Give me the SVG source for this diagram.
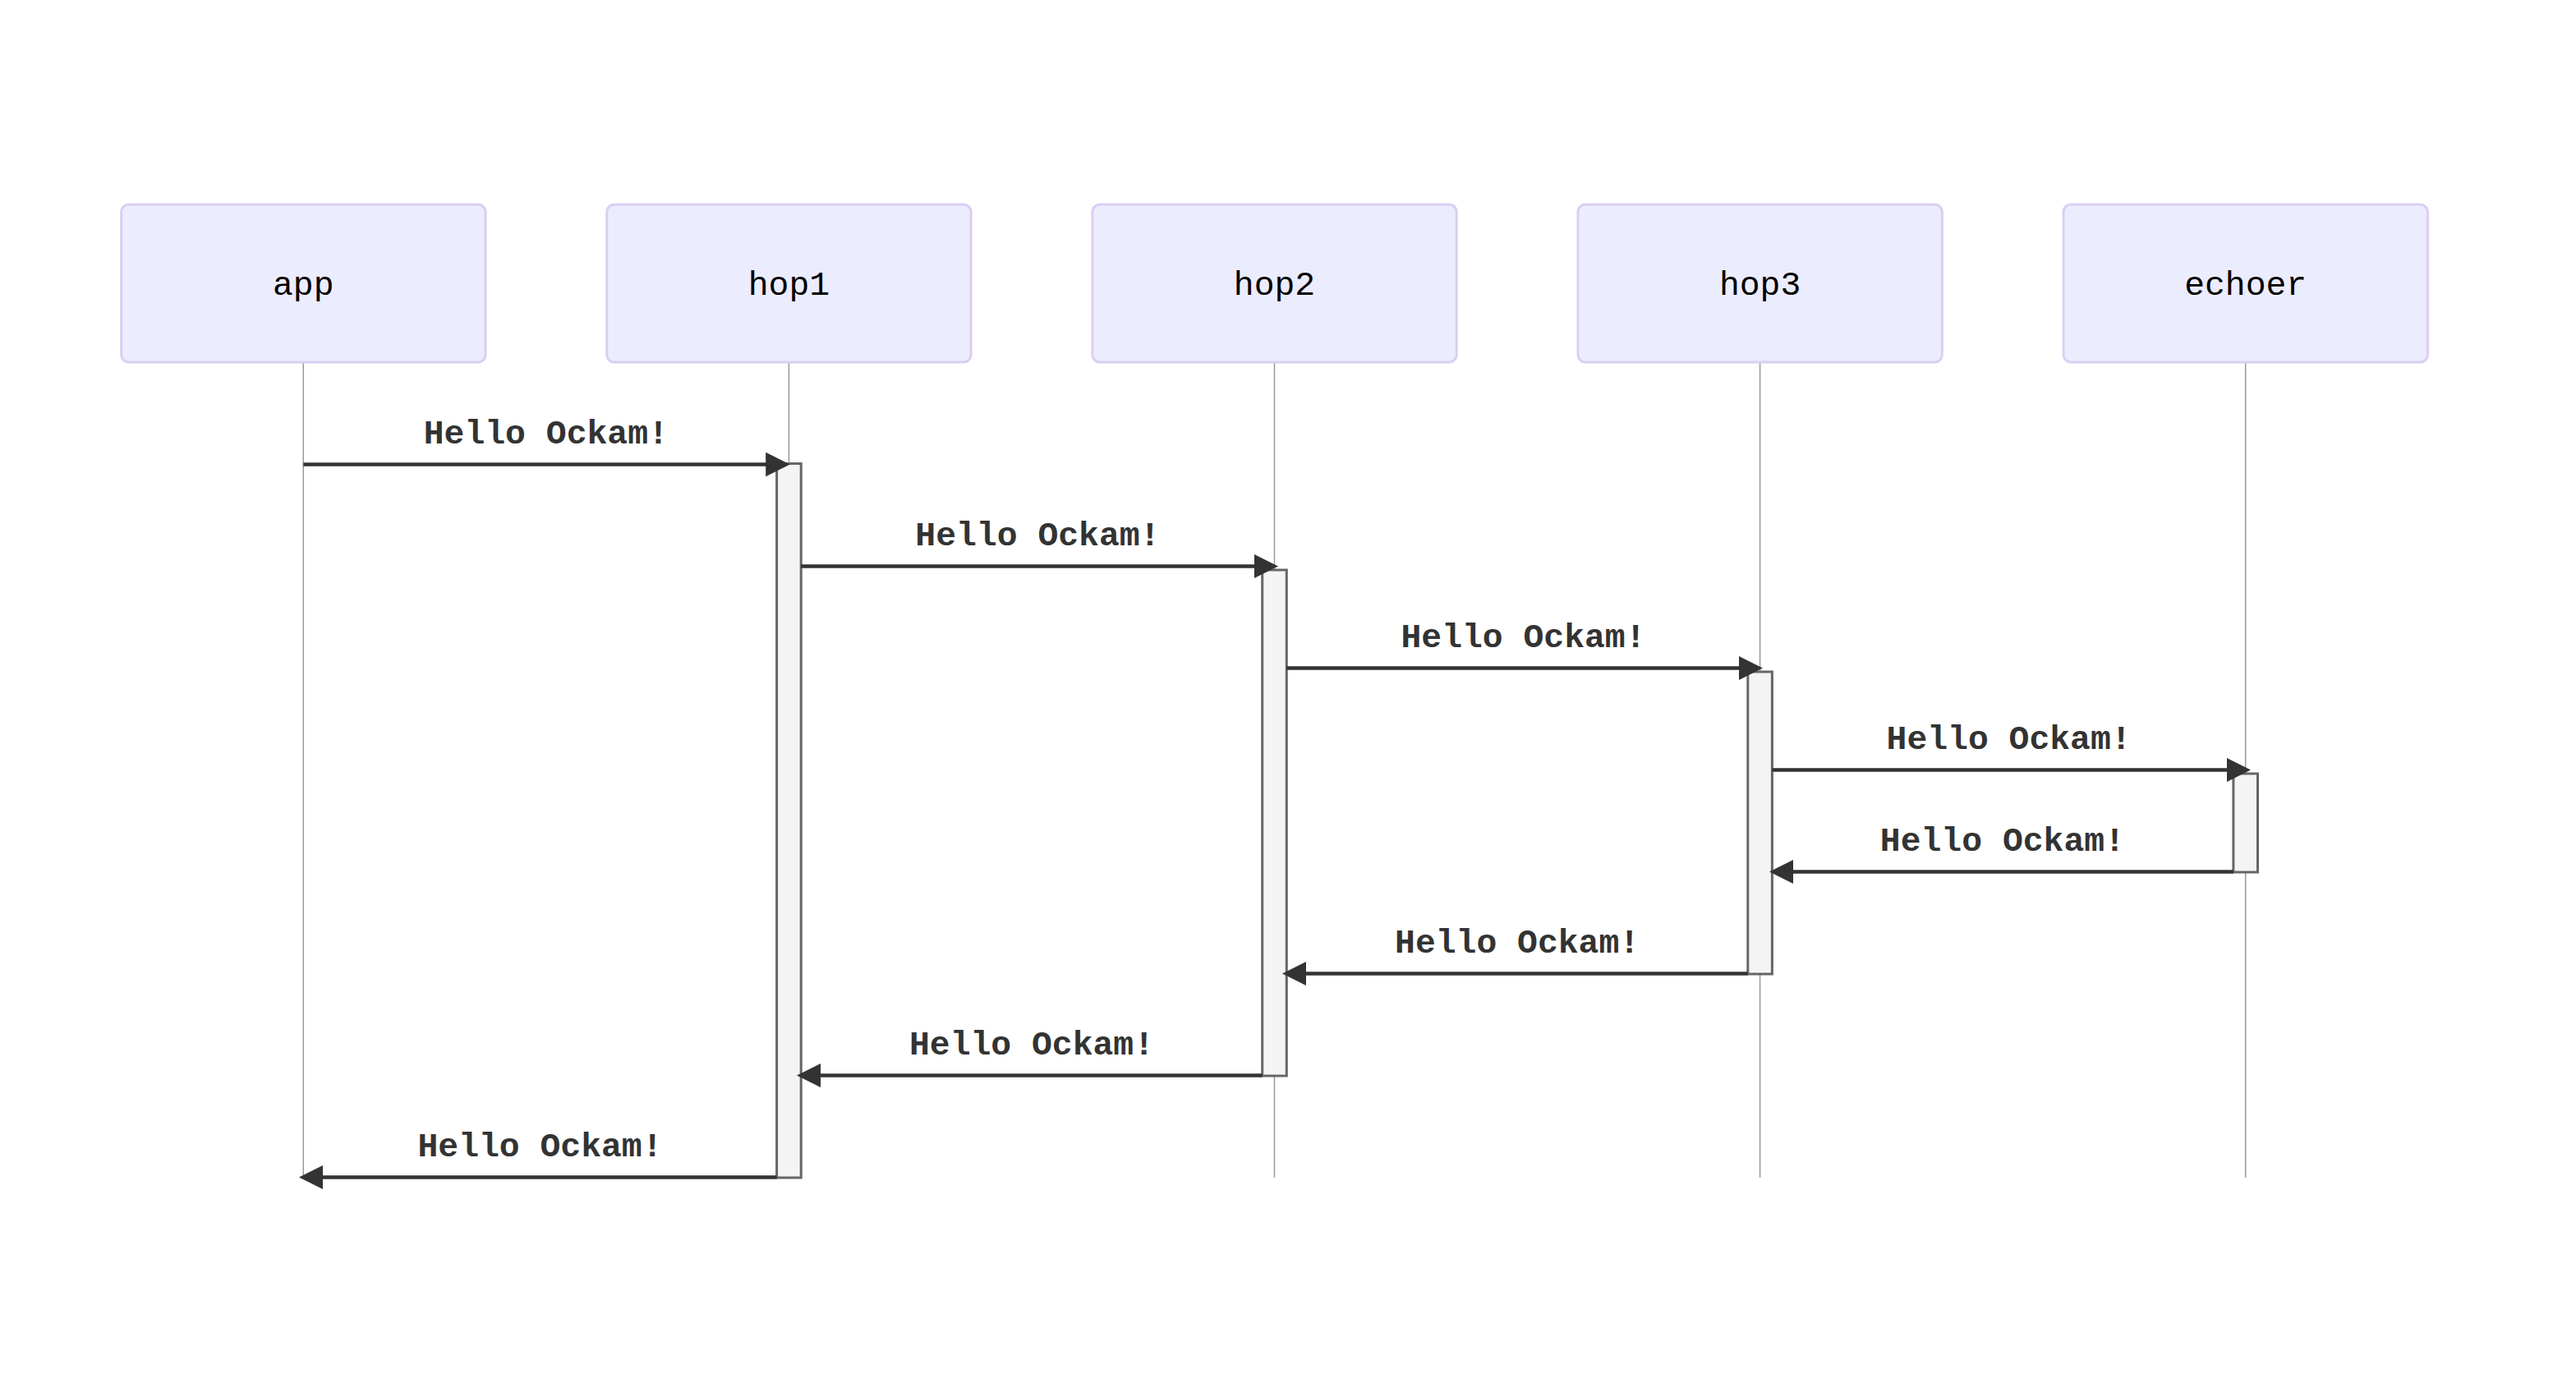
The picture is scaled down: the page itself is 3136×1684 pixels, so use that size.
<svg xmlns="http://www.w3.org/2000/svg" width="3136" height="1684" viewBox="0 0 3136 1684">
<style>
.actor{fill:#ECECFF;stroke:#DACEF3;stroke-width:3}
.atext{font-family:"Liberation Mono","Courier New",monospace;font-size:41.4px;fill:#000;text-anchor:middle}
.life{stroke:#999;stroke-width:1.5}
.act{fill:#f4f4f4;stroke:#666;stroke-width:3}
.msg{stroke:#333;stroke-width:4.4;fill:none;marker-end:url(#arrow)}
.mtext{font-family:"Liberation Mono","Courier New",monospace;font-size:41.4px;font-weight:bold;fill:#333;text-anchor:middle}
</style>
<defs>
<marker id="arrow" viewBox="0 0 10 10" refX="7.9" refY="5" markerUnits="userSpaceOnUse" markerWidth="29.5" markerHeight="30.5" orient="auto">
<path d="M 0 0 L 10 5 L 0 10 z" fill="#333"/>
</marker>
</defs>
<rect width="3136" height="1684" fill="#fff"/>
<g id="lifelines">
<line class="life" x1="369.3" y1="441" x2="369.3" y2="1434"/>
<line class="life" x1="960.4" y1="441" x2="960.4" y2="1434"/>
<line class="life" x1="1551.5" y1="441" x2="1551.5" y2="1434"/>
<line class="life" x1="2142.6" y1="441" x2="2142.6" y2="1434"/>
<line class="life" x1="2733.7" y1="441" x2="2733.7" y2="1434"/>
</g>
<g id="app"><rect class="actor" x="147.7" y="249" width="443.3" height="192" rx="9" ry="9"/><text class="atext" x="369.3" y="358.5">app</text></g>
<g id="hop1"><rect class="actor" x="738.8" y="249" width="443.3" height="192" rx="9" ry="9"/><text class="atext" x="960.4" y="358.5">hop1</text></g>
<g id="hop2"><rect class="actor" x="1329.9" y="249" width="443.3" height="192" rx="9" ry="9"/><text class="atext" x="1551.5" y="358.5">hop2</text></g>
<g id="hop3"><rect class="actor" x="1921" y="249" width="443.3" height="192" rx="9" ry="9"/><text class="atext" x="2142.6" y="358.5">hop3</text></g>
<g id="echoer"><rect class="actor" x="2512.1" y="249" width="443.3" height="192" rx="9" ry="9"/><text class="atext" x="2733.7" y="358.5">echoer</text></g>
<g id="activations">
<rect class="act" x="945.6" y="564.5" width="29.6" height="869.5"/>
<rect class="act" x="1536.7" y="694" width="29.6" height="616"/>
<rect class="act" x="2127.8" y="818" width="29.6" height="368"/>
<rect class="act" x="2718.9" y="942" width="29.6" height="120"/>
</g>
<g id="connectors">
<line class="msg" x1="369.3" y1="565.5" x2="955.5" y2="565.5"/>
<line class="msg" x1="975.2" y1="689.5" x2="1550" y2="689.5"/>
<line class="msg" x1="1566.3" y1="813.5" x2="2140" y2="813.5"/>
<line class="msg" x1="2157.4" y1="937.5" x2="2734" y2="937.5"/>
<line class="msg" x1="2718.9" y1="1061.5" x2="2160" y2="1061.5"/>
<line class="msg" x1="2127.8" y1="1185.5" x2="1567" y2="1185.5"/>
<line class="msg" x1="1536.7" y1="1309.5" x2="976" y2="1309.5"/>
<line class="msg" x1="945.6" y1="1433.5" x2="370" y2="1433.5"/>
</g>
<g id="labels">
<text class="mtext" x="664.8" y="539.5">Hello Ockam!</text>
<text class="mtext" x="1263.4" y="663.5">Hello Ockam!</text>
<text class="mtext" x="1854.5" y="787.5">Hello Ockam!</text>
<text class="mtext" x="2445.6" y="911.5">Hello Ockam!</text>
<text class="mtext" x="2437.9" y="1035.5">Hello Ockam!</text>
<text class="mtext" x="1847.1" y="1159.5">Hello Ockam!</text>
<text class="mtext" x="1256" y="1283.5">Hello Ockam!</text>
<text class="mtext" x="657.5" y="1407.5">Hello Ockam!</text>
</g>
</svg>
